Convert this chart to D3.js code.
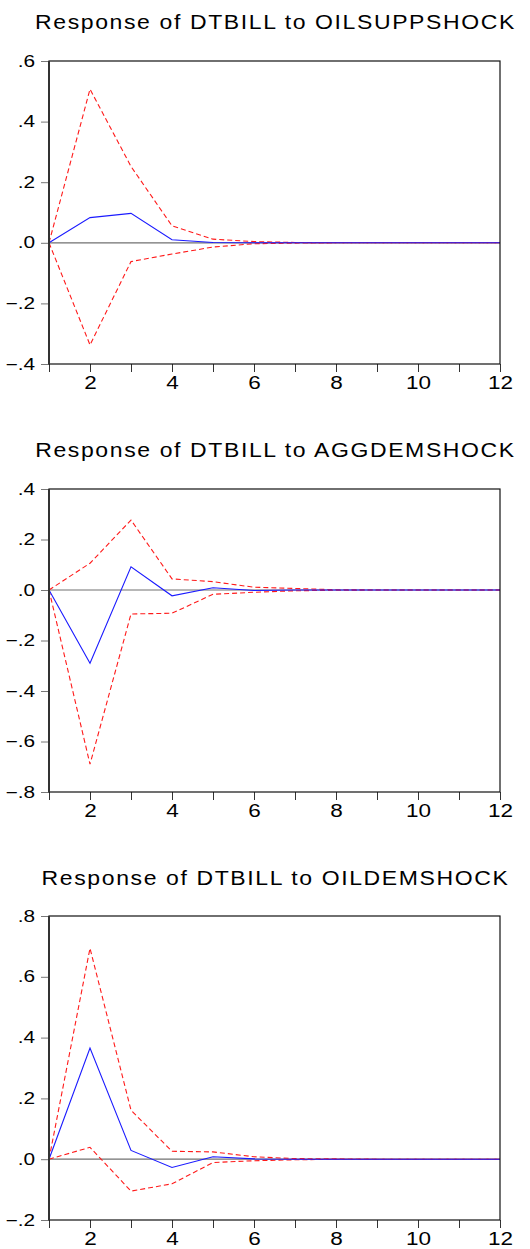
<!DOCTYPE html>
<html>
<head>
<meta charset="utf-8">
<script src="https://cdn.jsdelivr.net/npm/d3@7"></script>
<style>
  body { margin: 0; background: #fff; }
  text { font-family: "Liberation Sans", Arial, sans-serif; fill: #000; }
</style>
</head>
<body>
<svg id="irf" width="530" height="1249"></svg>
<script>
// horizon (periods) and the three shocks
const periods = [1, 2, 3, 4, 5, 6, 7, 8, 9, 10, 11, 12];
const titles = [
  "Response of DTBILL to OILSUPPSHOCK",
  "Response of DTBILL to AGGDEMSHOCK",
  "Response of DTBILL to OILDEMSHOCK"
];
const xTickLabels = [2, 4, 6, 8, 10, 12];

// impulse responses (blue) and +/- 2 s.e. bands (red dashed)
const respOilSupp  = [0, 0.083, 0.097, 0.010, 0.001, 0.000, 0, 0, 0, 0, 0, 0];
const upperOilSupp = [0, 0.507, 0.252, 0.056, 0.012, 0.004, 0.001, 0, 0, 0, 0, 0];
const lowerOilSupp = [0, -0.337, -0.062, -0.037, -0.014, -0.003, -0.001, 0, 0, 0, 0, 0];

const respAggDem  = [0, -0.290, 0.092, -0.023, 0.009, -0.002, 0.000, 0, 0, 0, 0, 0];
const upperAggDem = [0, 0.106, 0.277, 0.044, 0.033, 0.011, 0.006, 0.001, 0, 0, 0, 0];
const lowerAggDem = [0, -0.690, -0.095, -0.092, -0.017, -0.009, -0.003, -0.001, 0, 0, 0, 0];

const respOilDem  = [0, 0.366, 0.029, -0.027, 0.008, 0.001, 0, 0, 0, 0, 0, 0];
const upperOilDem = [0, 0.694, 0.161, 0.026, 0.024, 0.008, 0.002, 0.001, 0, 0, 0, 0];
const lowerOilDem = [0, 0.039, -0.105, -0.081, -0.011, -0.005, -0.002, 0, 0, 0, 0, 0];

// y ranges and tick labels per panel
const yDomains = [[-0.4, 0.6], [-0.8, 0.4], [-0.2, 0.8]];
const yTickLabels = [
  [-0.4, -0.2, 0, 0.2, 0.4, 0.6],
  [-0.8, -0.6, -0.4, -0.2, 0, 0.2, 0.4],
  [-0.2, 0, 0.2, 0.4, 0.6, 0.8]
];

const series = [
  {resp: respOilSupp, upper: upperOilSupp, lower: lowerOilSupp},
  {resp: respAggDem, upper: upperAggDem, lower: lowerAggDem},
  {resp: respOilDem, upper: upperOilDem, lower: lowerOilDem}
];

// panel frames (pixel layout of the EViews export)
const panels = [
  {top: 61, bottom: 364, titleY: 29},
  {top: 489, bottom: 792, titleY: 457},
  {top: 916, bottom: 1220, titleY: 885}
];
const left = 49, right = 500;

const svg = d3.select('svg#irf');

const x = d3.scaleLinear()
  .domain([1, 12])
  .range([left, right]);

// ".2", "-.4", ".0" style labels
const fmt = v => d3.format('.1f')(v).replace('0.', '.');

// the export is stretched sideways, so widen text to match
function widen(sel, k) {
  sel.each(function() {
    const len = this.getComputedTextLength();
    d3.select(this)
      .attr('textLength', len * k)
      .attr('lengthAdjust', 'spacingAndGlyphs');
  });
}

panels.forEach((p, i) => {
  const g = svg.append('g').attr('class', 'panel');
  const y = d3.scaleLinear()
    .domain(yDomains[i])
    .range([p.bottom, p.top]);

  // title
  g.append('text')
    .attr('x', (left + right) / 2 + 1)
    .attr('y', p.titleY)
    .attr('text-anchor', 'middle')
    .style('font-size', '20px')
    .style('letter-spacing', '1.4px')
    .text(titles[i])
    .call(widen, 1.15);

  // y axis
  const yAxis = g.append('g')
    .attr('transform', `translate(${left},0)`)
    .call(d3.axisLeft(y).tickValues(yTickLabels[i]).tickFormat(fmt).tickSize(8).tickPadding(6));
  yAxis.select('.domain').remove();
  yAxis.selectAll('line').attr('stroke', '#777');
  yAxis.selectAll('text')
    .style('font-size', '16px')
    .attr('fill', '#000')
    .call(widen, 1.3);

  // x axis
  const xAxis = g.append('g')
    .attr('transform', `translate(0,${p.bottom})`)
    .call(d3.axisBottom(x).tickValues(periods).tickFormat(d => xTickLabels.includes(d) ? d : '').tickSize(8).tickPadding(4));
  xAxis.select('.domain').remove();
  xAxis.selectAll('line').attr('stroke', '#333');
  xAxis.selectAll('text')
    .style('font-size', '18px')
    .attr('fill', '#000')
    .call(widen, 1.25);

  // zero line
  g.append('line')
    .attr('x1', left).attr('x2', right)
    .attr('y1', y(0)).attr('y2', y(0))
    .attr('stroke', '#707070')
    .attr('stroke-width', 1.2);

  const line = d3.line()
    .x((d, j) => x(periods[j]))
    .y(d => y(d));

  const s = series[i];
  g.append('path')
    .attr('d', line(s.upper))
    .attr('fill', 'none')
    .attr('stroke', '#ff1a1a')
    .attr('stroke-width', 1.1)
    .attr('stroke-dasharray', '5,3');
  g.append('path')
    .attr('d', line(s.lower))
    .attr('fill', 'none')
    .attr('stroke', '#ff1a1a')
    .attr('stroke-width', 1.1)
    .attr('stroke-dasharray', '5,3');
  g.append('path')
    .attr('d', line(s.resp))
    .attr('fill', 'none')
    .attr('stroke', '#1a1aff')
    .attr('stroke-width', 1.1);

  // frame
  g.append('rect')
    .attr('x', left).attr('y', p.top)
    .attr('width', right - left).attr('height', p.bottom - p.top)
    .attr('fill', 'none')
    .attr('stroke', '#111')
    .attr('stroke-width', 1.2);
  g.append('line')
    .attr('x1', left).attr('x2', left)
    .attr('y1', p.top).attr('y2', p.bottom)
    .attr('stroke', '#333')
    .attr('stroke-width', 2);
});
</script>
</body>
</html>
